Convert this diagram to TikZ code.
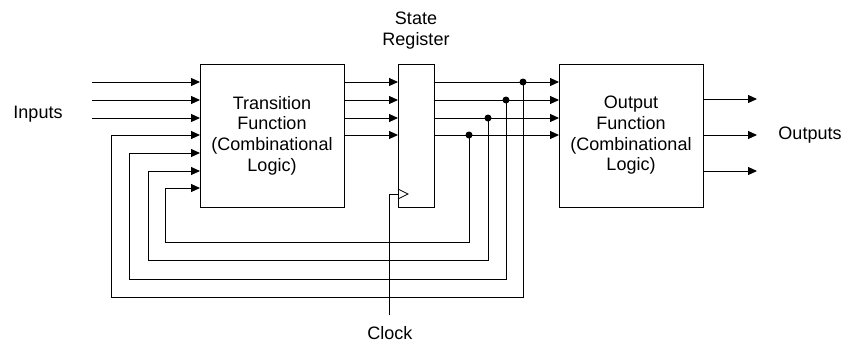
\documentclass[tikz,border=0pt]{standalone}
\usepackage{fontspec}
\setmainfont{Liberation Sans}
\usetikzlibrary{arrows.meta,calc}
\begin{document}
\begin{tikzpicture}[x=1pt,y=-1pt,
  line width=1pt,
  every node/.style={inner sep=0pt,outer sep=0pt},
  lbl/.style={font=\fontsize{18}{20.7}\selectfont},
  block/.style={draw,line width=1pt,minimum height=143pt,align=center,font=\fontsize{18}{20.7}\selectfont},
  arr/.style={-{Triangle[length=9pt,width=8pt]}},
  dot/.style={circle,fill,minimum size=7pt}
]
\useasboundingbox (0,0) rectangle (854,343);
% boxes
\node[block,minimum width=144pt] (trans) at (272,135.5) {Transition\\Function\\(Combinational\\Logic)};
\node[block,minimum width=36pt] (reg) at (416,135.5) {};
\node[block,minimum width=144pt] (out) at (631,135.5) {Output\\Function\\(Combinational\\Logic)};
% labels
\node[lbl,anchor=base] (inputs) at (38,118) {Inputs};
\node[lbl,anchor=base] (outputs) at (810,139) {Outputs};
\node[lbl,anchor=base] (state) at (416,24) {State};
\node[lbl,anchor=base] (register) at (416,45) {Register};
\node[lbl,anchor=base] (clock) at (390,339.5) {Clock};
% rows
\coordinate (r1) at (0,82);
\coordinate (r2) at (0,100);
\coordinate (r3) at (0,118);
\coordinate (r4) at (0,135);
\coordinate (r5) at (0,153);
\coordinate (r6) at (0,171);
\coordinate (r7) at (0,188);
% inputs
\foreach \r in {r1,r2,r3}{
  \draw[arr] (92,0 |- \r) -- (trans.west |- \r);
}
% transition -> register -> output
\foreach \r in {r1,r2,r3,r4}{
  \draw[arr] (trans.east |- \r) -- (reg.west |- \r);
  \draw[arr] (reg.east |- \r) -- (out.west |- \r);
}
% outputs
\coordinate (o1) at (757,99);
\coordinate (o2) at (757,135);
\coordinate (o3) at (757,171);
\foreach \o in {o1,o2,o3}{
  \draw[arr] (out.east |- \o) -- (\o);
}
% feedback
\node[dot] (d1) at (523,82) {};
\node[dot] (d2) at (506,100) {};
\node[dot] (d3) at (488,118) {};
\node[dot] (d4) at (469,135) {};
\draw[arr] (d1.center) |- (111,297) |- (trans.west |- r4);
\draw[arr] (d2.center) |- (129,279) |- (trans.west |- r5);
\draw[arr] (d3.center) |- (148,260) |- (trans.west |- r6);
\draw[arr] (d4.center) |- (165,242) |- (trans.west |- r7);
% clock
\coordinate (clk) at (389,315);
\draw (clk) |- (reg.west |- 0,194);
\draw[line width=0.8pt] ($(reg.west |- 0,189)$) -- (408,194) -- ($(reg.west |- 0,199)$);
\end{tikzpicture}
\end{document}
